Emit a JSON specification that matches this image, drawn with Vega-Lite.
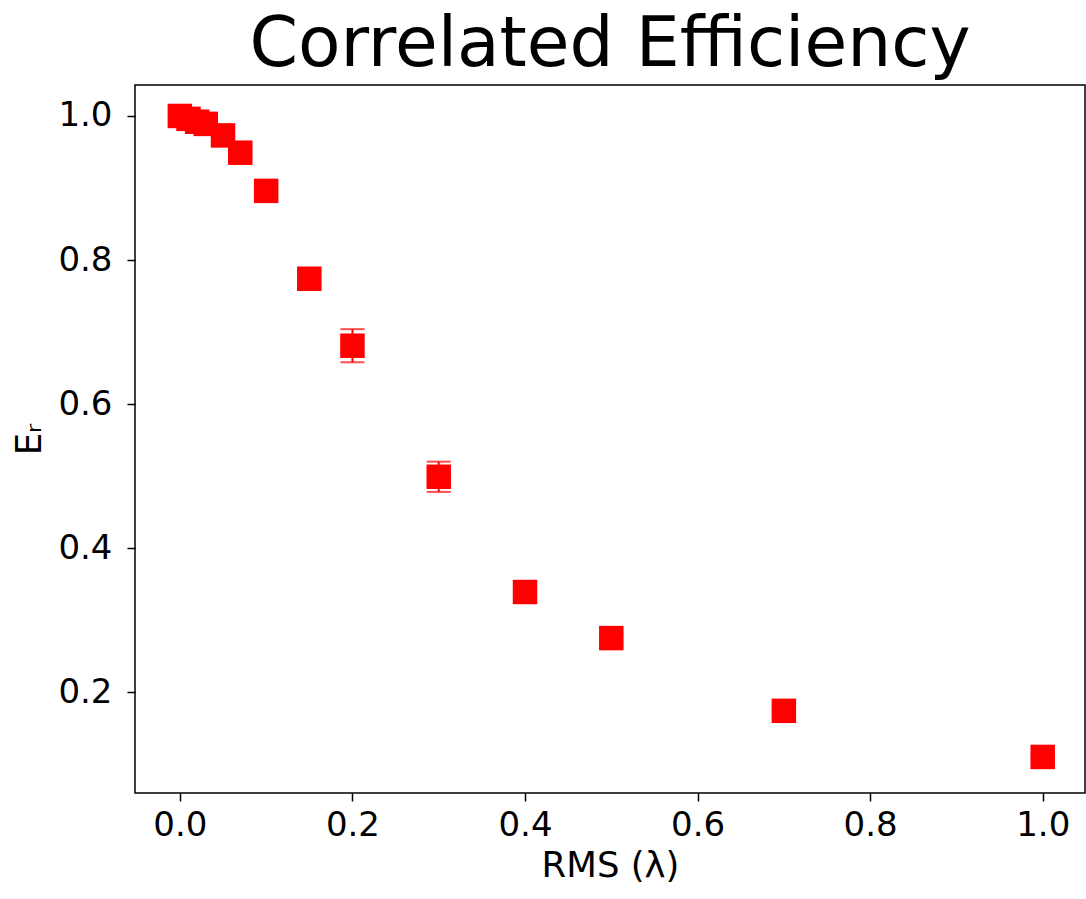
{
  "$schema": "https://vega.github.io/schema/vega-lite/v6.json",
  "autosize": "none",
  "width": 950,
  "height": 708,
  "padding": {"left": 135, "top": 85, "right": 1, "bottom": 106},
  "background": "white",
  "title": {
    "text": "Correlated Efficiency",
    "font": "DejaVu Sans",
    "fontSize": 69.5,
    "fontWeight": "normal",
    "color": "black",
    "offset": 5,
    "anchor": "middle"
  },
  "config": {
    "view": {"stroke": "black", "strokeWidth": 1.5},
    "axis": {
      "grid": false,
      "domain": false,
      "tickColor": "black",
      "tickSize": 8,
      "tickWidth": 1.5,
      "labelFont": "DejaVu Sans",
      "labelFontSize": 34,
      "labelColor": "black",
      "titleFont": "DejaVu Sans",
      "titleFontSize": 35.5,
      "titleFontWeight": "normal",
      "titleColor": "black"
    }
  },
  "data": {
    "values": [
      {"rms": 0.0, "e": 1.0, "err": 0.003},
      {"rms": 0.01, "e": 0.996, "err": 0.003},
      {"rms": 0.02, "e": 0.992, "err": 0.003},
      {"rms": 0.03, "e": 0.989, "err": 0.003},
      {"rms": 0.05, "e": 0.973, "err": 0.004},
      {"rms": 0.07, "e": 0.949, "err": 0.005},
      {"rms": 0.1, "e": 0.896, "err": 0.006},
      {"rms": 0.15, "e": 0.774, "err": 0.01},
      {"rms": 0.2, "e": 0.681, "err": 0.023},
      {"rms": 0.3, "e": 0.499, "err": 0.021},
      {"rms": 0.4, "e": 0.339, "err": 0.008},
      {"rms": 0.5, "e": 0.275, "err": 0.007},
      {"rms": 0.7, "e": 0.174, "err": 0.006},
      {"rms": 1.0, "e": 0.110, "err": 0.004}
    ]
  },
  "encoding": {
    "x": {
      "field": "rms",
      "type": "quantitative",
      "scale": {"domain": [-0.052, 1.049], "nice": false, "zero": false},
      "axis": {"values": [0, 0.2, 0.4, 0.6, 0.8, 1.0], "format": ".1f", "title": "RMS (λ)", "labelPadding": 7, "titlePadding": 6}
    }
  },
  "layer": [
    {
      "mark": {"type": "errorbar", "color": "#ff0000", "ticks": {"size": 24, "thickness": 2, "color": "#ff0000"}, "rule": {"strokeWidth": 2}},
      "encoding": {
        "y": {"field": "e", "type": "quantitative", "title": "Eᵣ"},
        "yError": {"field": "err"}
      }
    },
    {
      "mark": {"type": "point", "shape": "square", "filled": true, "color": "#ff0000", "opacity": 1, "size": 600},
      "encoding": {
        "y": {
          "field": "e",
          "type": "quantitative",
          "scale": {"domain": [0.0599, 1.043], "nice": false, "zero": false},
          "axis": {"values": [0.2, 0.4, 0.6, 0.8, 1.0], "format": ".1f", "title": "Eᵣ", "labelPadding": 15, "titlePadding": 10}
        }
      }
    }
  ],
  "resolve": {"scale": {"y": "shared"}}
}
